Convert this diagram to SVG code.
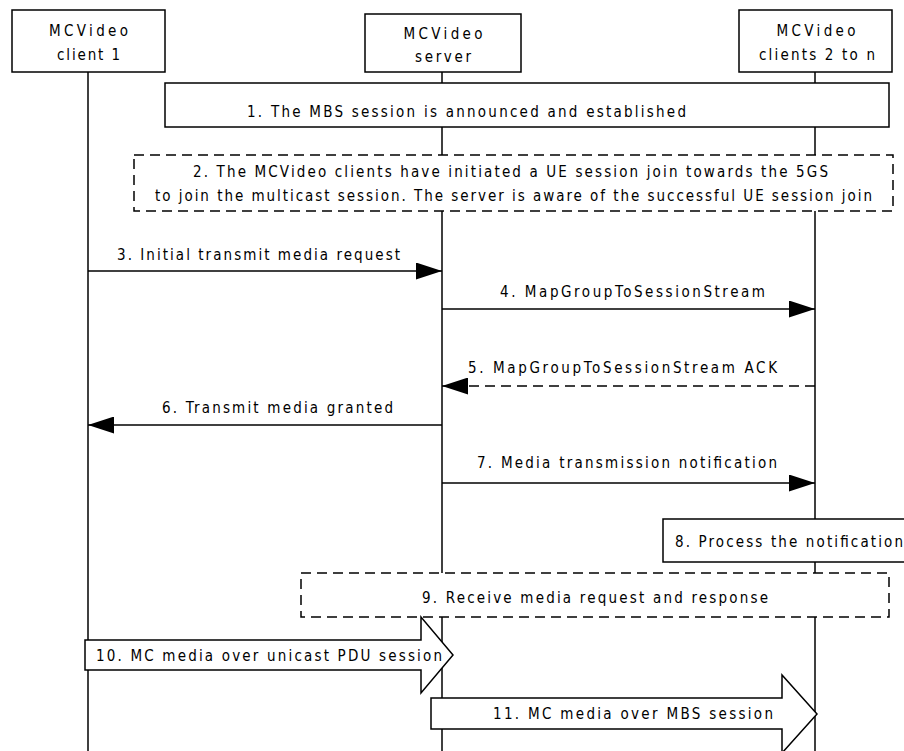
<svg xmlns="http://www.w3.org/2000/svg" width="904" height="751" viewBox="0 0 904 751">
<defs>
<style>
text{font-family:"DejaVu Sans Condensed","Liberation Sans Narrow","Liberation Sans",sans-serif;font-stretch:condensed;font-size:15px;fill:#000}
.box{fill:#fff;stroke:#000;stroke-width:1.5}
.dbox{fill:#fff;stroke:#000;stroke-width:1.5;stroke-dasharray:10,6}
.life{stroke:#000;stroke-width:1.5;fill:none}
.msg{stroke:#000;stroke-width:1.5;fill:none}
.dash{stroke-dasharray:10,6}
</style>
<marker id="ah" viewBox="0 0 26 17" refX="26" refY="8.5" markerWidth="26" markerHeight="17" markerUnits="userSpaceOnUse" orient="auto">
<path d="M0,0 L26,8.5 L0,17 Z" fill="#000"/>
</marker>
</defs>
<rect width="904" height="751" fill="#fff"/>
<g id="lifelines">
<line class="life" x1="88" y1="72" x2="88" y2="751"/>
<line class="life" x1="442" y1="72" x2="442" y2="751"/>
<line class="life" x1="815" y1="72" x2="815" y2="751"/>
</g>
<g id="client1">
<rect class="box" x="12" y="10" width="153" height="62"/>
<text x="88.5" y="36" text-anchor="middle" textLength="79" lengthAdjust="spacing">MCVideo</text>
<text x="88.5" y="60" text-anchor="middle" textLength="63" lengthAdjust="spacing">client 1</text>
</g>
<g id="server">
<rect class="box" x="365" y="14" width="156" height="58"/>
<text x="443" y="39" text-anchor="middle" textLength="79" lengthAdjust="spacing">MCVideo</text>
<text x="443" y="62" text-anchor="middle" textLength="56" lengthAdjust="spacing">server</text>
</g>
<g id="clients2n">
<rect class="box" x="739" y="10" width="153" height="62"/>
<text x="816" y="36" text-anchor="middle" textLength="79" lengthAdjust="spacing">MCVideo</text>
<text x="817" y="60" text-anchor="middle" textLength="116" lengthAdjust="spacing">clients 2 to n</text>
</g>
<g id="step1">
<rect class="box" x="165" y="83" width="724" height="44"/>
<text x="247" y="117" textLength="439" lengthAdjust="spacing">1. The MBS session is announced and established</text>
</g>
<g id="step2">
<rect class="dbox" x="134" y="155" width="759" height="56"/>
<text x="193" y="177" textLength="635" lengthAdjust="spacing">2. The MCVideo clients have initiated a UE session join towards the 5GS</text>
<text x="155" y="201" textLength="717" lengthAdjust="spacing">to join the multicast session. The server is aware of the successful UE session join</text>
</g>
<g id="connectors">
<line class="msg" x1="88" y1="271" x2="442" y2="271" marker-end="url(#ah)"/>
<line class="msg" x1="442" y1="309" x2="815" y2="309" marker-end="url(#ah)"/>
<line class="msg dash" x1="815" y1="386" x2="442" y2="386" marker-end="url(#ah)"/>
<line class="msg" x1="442" y1="425" x2="88" y2="425" marker-end="url(#ah)"/>
<line class="msg" x1="442" y1="483" x2="815" y2="483" marker-end="url(#ah)"/>
</g>
<g id="labels">
<text x="117" y="260" textLength="283" lengthAdjust="spacing">3. Initial transmit media request</text>
<text x="500" y="297" textLength="265" lengthAdjust="spacing">4. MapGroupToSessionStream</text>
<text x="468" y="373" textLength="309" lengthAdjust="spacing">5. MapGroupToSessionStream ACK</text>
<text x="162" y="413" textLength="231" lengthAdjust="spacing">6. Transmit media granted</text>
<text x="477" y="468" textLength="300" lengthAdjust="spacing">7. Media transmission notification</text>
</g>
<g id="step8">
<rect class="box" x="663" y="519" width="250" height="43"/>
<text x="675" y="547" textLength="228" lengthAdjust="spacing">8. Process the notification</text>
</g>
<g id="step9">
<rect class="dbox" x="301" y="573" width="588" height="44"/>
<text x="422" y="603" textLength="346" lengthAdjust="spacing">9. Receive media request and response</text>
</g>
<g id="step10">
<path class="box" d="M85,640 L421,640 L421,617 L453,655 L421,693 L421,670 L85,670 Z"/>
<text x="96" y="661" textLength="346" lengthAdjust="spacing">10. MC media over unicast PDU session</text>
</g>
<g id="step11">
<path class="box" d="M431,698 L782,698 L782,675 L817,714 L782,753 L782,729 L431,729 Z"/>
<text x="493" y="719" textLength="280" lengthAdjust="spacing">11. MC media over MBS session</text>
</g>
</svg>
